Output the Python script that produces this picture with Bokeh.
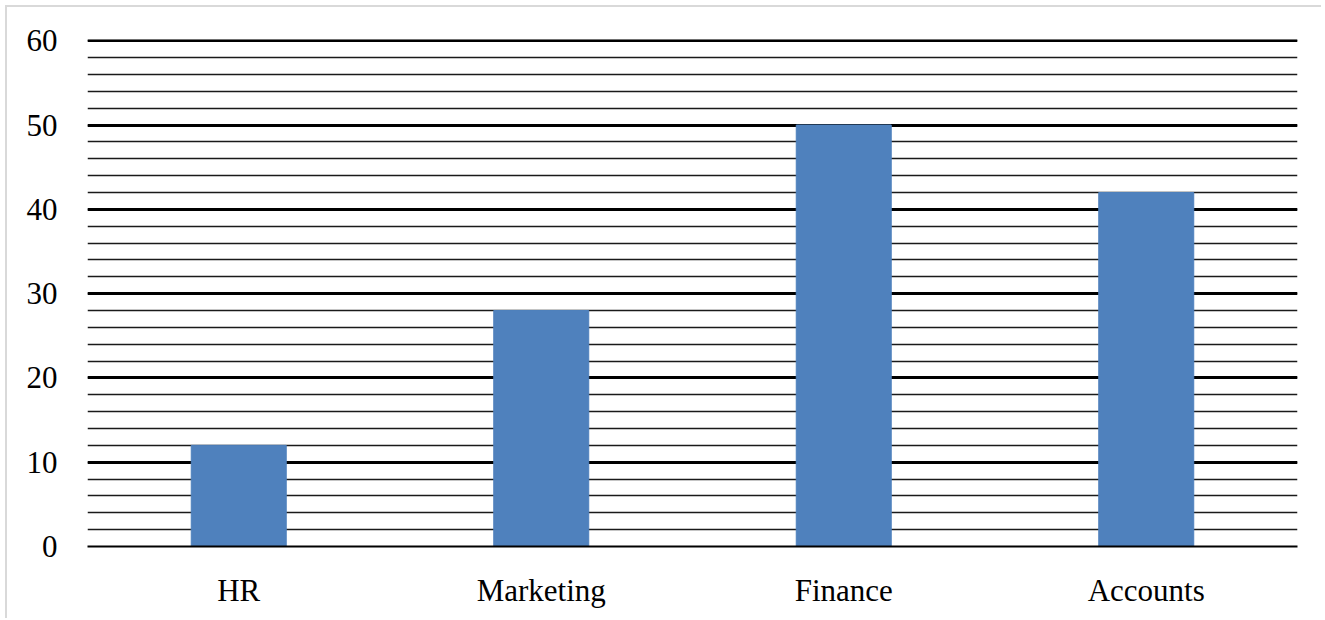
from bokeh.plotting import figure
from bokeh.models import FactorRange, SingleIntervalTicker
from bokeh.embed import file_html
from bokeh.resources import INLINE

categories = ["HR", "Marketing", "Finance", "Accounts"]
values = [12, 28, 50, 42]

p = figure(x_range=FactorRange(*categories, range_padding=0), y_range=(0, 60.15),
           width=1316, height=613, output_backend="svg", toolbar_location=None,
           min_border_left=80, min_border_right=26, min_border_top=32, min_border_bottom=74)
p.styles = {"border-top": "2px solid #d9d9d9", "border-left": "2px solid #d9d9d9",
            "margin-left": "5px", "margin-top": "5px"}
p.outline_line_color = None

p.vbar(x=categories, top=values, width=0.314, fill_color="#4F81BD", line_color="#4F81BD")

ticker = SingleIntervalTicker(interval=10, num_minor_ticks=5)
p.yaxis.ticker = ticker
p.ygrid.ticker = ticker
p.ygrid.grid_line_color = "black"
p.ygrid.grid_line_width = 3
p.ygrid.minor_grid_line_color = "#1a1a1a"
p.ygrid.minor_grid_line_width = 1.6
p.xgrid.grid_line_color = None

font = "Liberation Serif"
p.yaxis.axis_line_color = None
p.yaxis.major_tick_line_color = None
p.yaxis.minor_tick_line_color = None
p.yaxis.major_label_text_font = font
p.yaxis.major_label_text_font_size = "31px"
p.yaxis.major_label_text_color = "black"
p.yaxis.major_label_standoff = 24

p.xaxis.axis_line_color = "black"
p.xaxis.axis_line_width = 2
p.xaxis.major_tick_line_color = None
p.xaxis.minor_tick_line_color = None
p.xaxis.major_label_text_font = font
p.xaxis.major_label_text_font_size = "31px"
p.xaxis.major_label_text_color = "black"
p.xaxis.major_label_standoff = 20

open("out.html", "w").write(file_html(p, INLINE))
